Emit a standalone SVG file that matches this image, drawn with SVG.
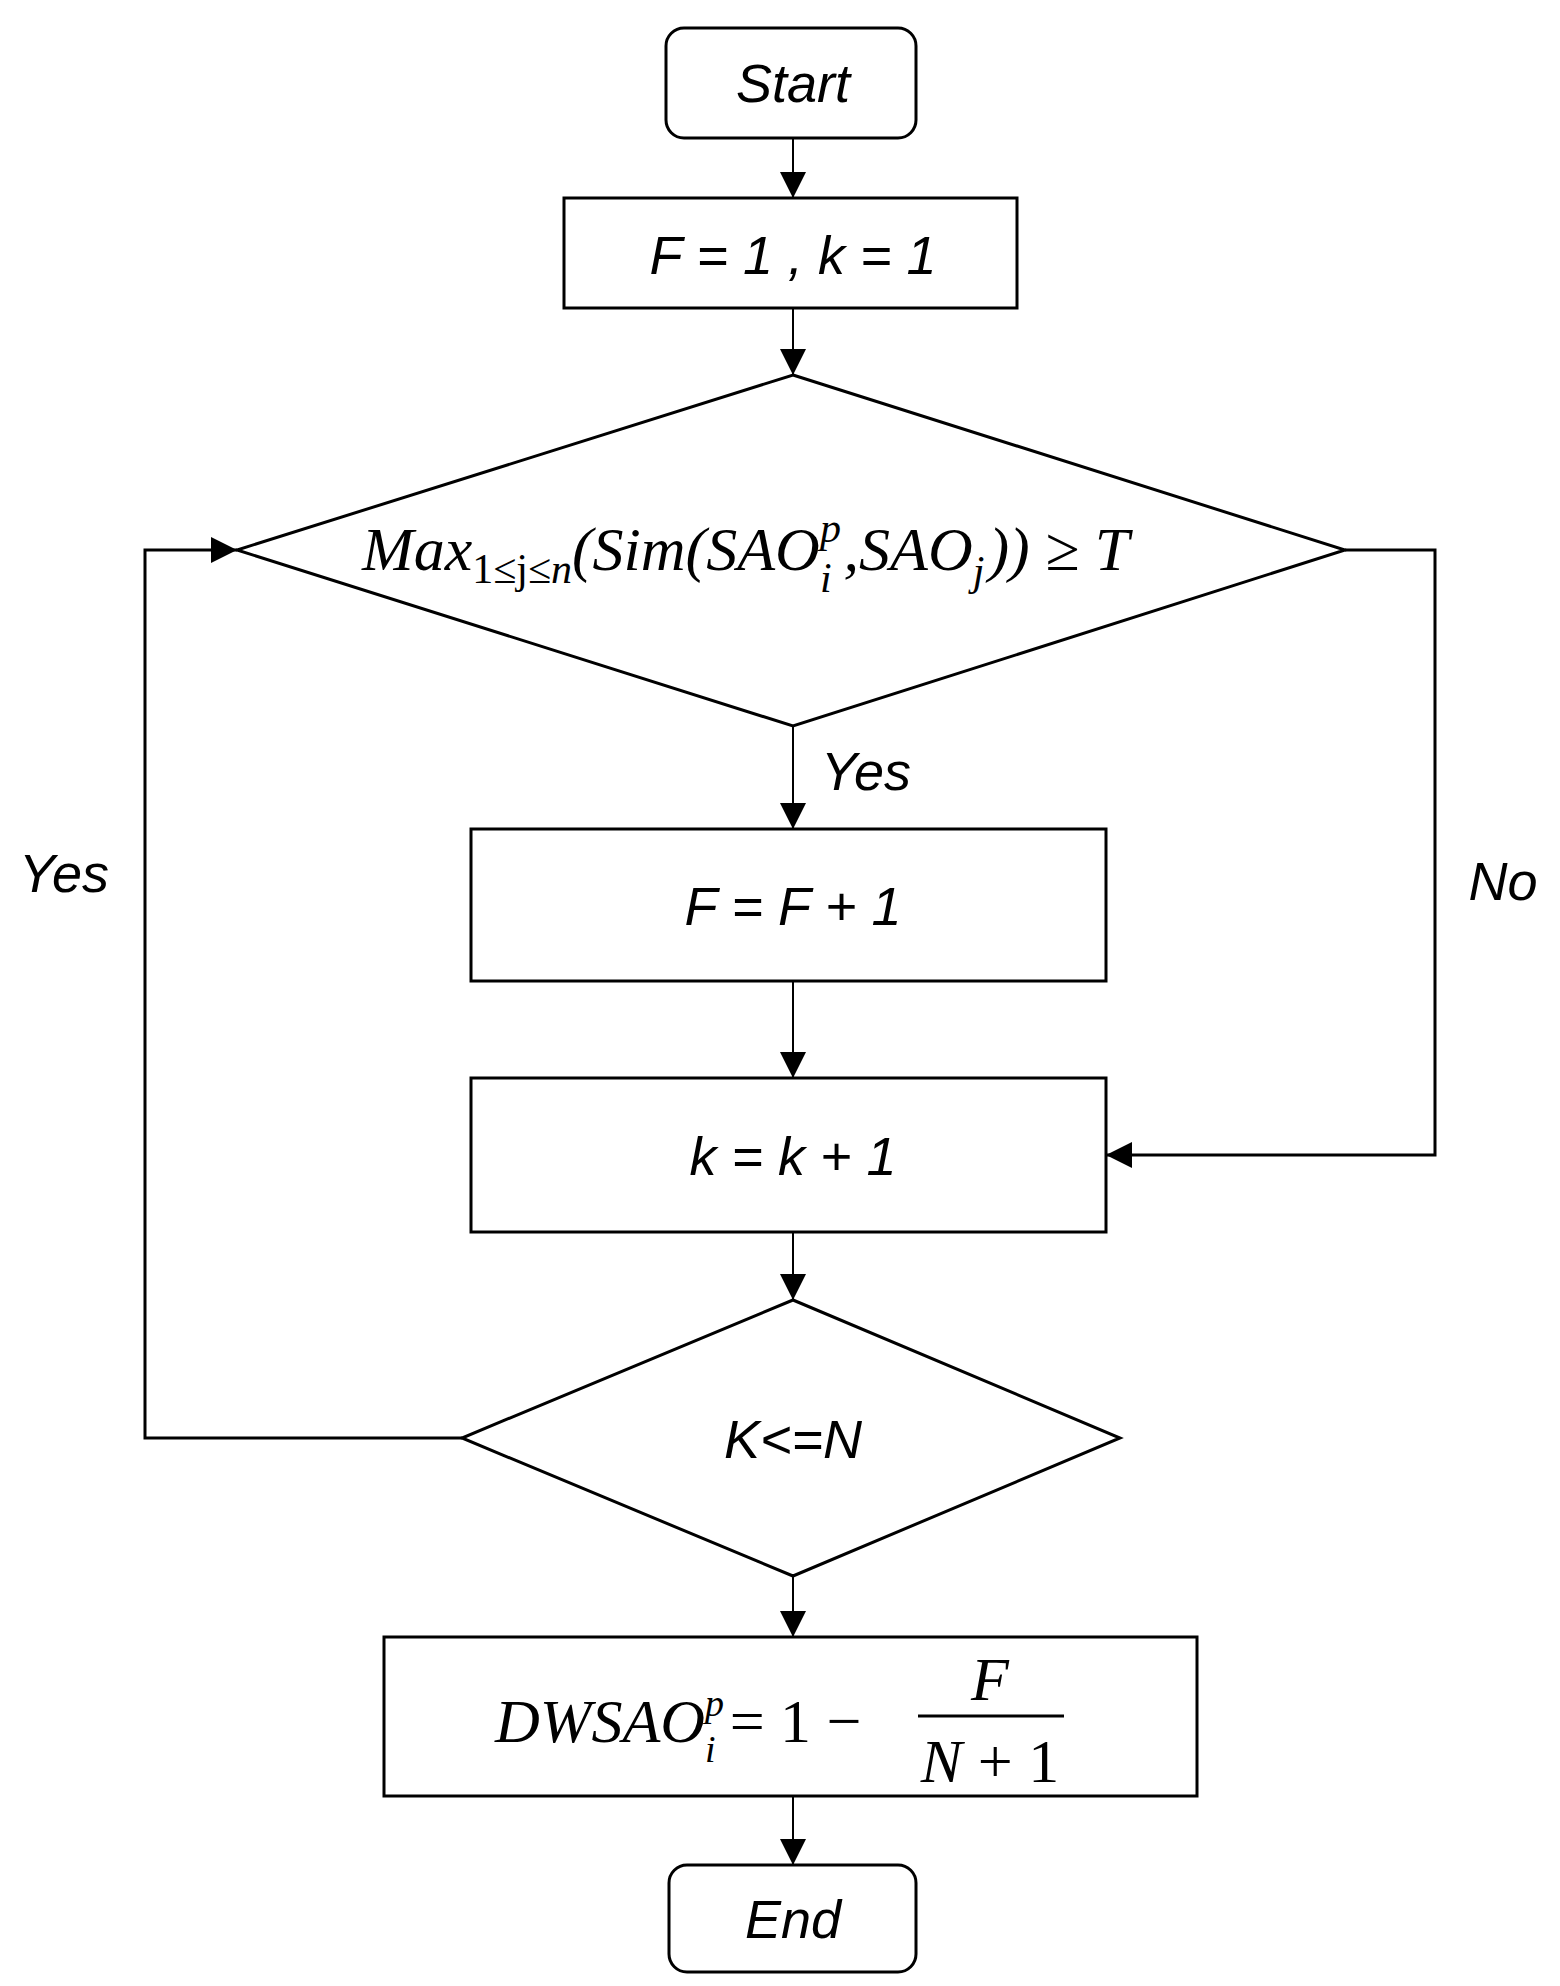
<svg xmlns="http://www.w3.org/2000/svg" width="1560" height="1986" viewBox="0 0 1560 1986">
<style>
.n{fill:#fff;stroke:#000;stroke-width:3}
.c{fill:none;stroke:#000;stroke-width:2}
.t{font-family:"Liberation Sans",Arial,sans-serif;font-style:italic;font-size:54px;text-anchor:middle}
.m{font-family:"Liberation Serif","Times New Roman",serif;font-style:italic;font-size:62px}
</style>
<defs><marker id="b" markerWidth="26" markerHeight="26" refX="26" refY="13" orient="auto" markerUnits="userSpaceOnUse" viewBox="0 0 26 26"><path d="M0,0L26,13L0,26z"/></marker></defs>
<rect width="1560" height="1986" fill="#fff"/>
<g id="connectors">
<path class="c" d="M793,138V198" marker-end="url(#b)"/>
<path class="c" d="M793,308V375" marker-end="url(#b)"/>
<path class="c" d="M793,726V829" marker-end="url(#b)"/>
<path class="c" d="M793,981V1078" marker-end="url(#b)"/>
<path class="c" d="M793,1232V1300" marker-end="url(#b)"/>
<path class="c" d="M793,1576V1637" marker-end="url(#b)"/>
<path class="c" d="M793,1796V1865" marker-end="url(#b)"/>
<path class="c" style="stroke-width:3" d="M1345,550H1435V1155H1106" marker-end="url(#b)"/>
<path class="c" style="stroke-width:3" d="M462,1438H145V550H237" marker-end="url(#b)"/>
<text class="t" x="866" y="790">Yes</text>
<text class="t" x="1503" y="900">No</text>
<text class="t" x="64" y="892">Yes</text>
</g>
<g id="start"><rect class="n" x="666" y="28" width="250" height="110" rx="18"/><text class="t" x="793" y="102">Start</text></g>
<g id="init"><rect class="n" x="564" y="198" width="453" height="110"/><text class="t" x="793" y="274">F = 1 , k = 1</text></g>
<g id="cond1"><path class="n" d="M793,375L1345,550L793,726L237,550Z"/>
<text class="m" x="362" y="570" font-size="68">Max<tspan font-size="42" font-style="normal" dy="13">1≤j≤</tspan><tspan font-size="42">n</tspan><tspan dy="-13">(Sim(SAO</tspan><tspan font-size="42" dy="-28">p</tspan><tspan font-size="42" dx="-21" dy="50">i</tspan><tspan dx="12" dy="-22">,SAO</tspan><tspan font-size="42" dy="15">j</tspan><tspan dx="4" dy="-15">)) ≥ T</tspan></text></g>
<g id="incF"><rect class="n" x="471" y="829" width="635" height="152"/><text class="t" x="793" y="925">F = F + 1</text></g>
<g id="incK"><rect class="n" x="471" y="1078" width="635" height="154"/><text class="t" x="793" y="1175">k = k + 1</text></g>
<g id="cond2"><path class="n" d="M793,1300L1120,1438L793,1576L462,1438Z"/><text class="t" x="793" y="1458">K&lt;=N</text></g>
<g id="dwsao"><rect class="n" x="384" y="1637" width="813" height="159"/>
<text class="m" x="495" y="1742">DWSAO<tspan font-size="38" dy="-26">p</tspan><tspan font-size="38" dx="-19" dy="46">i</tspan><tspan font-style="normal" dx="14" dy="-20">= 1 −</tspan></text>
<text class="m" x="990" y="1700" text-anchor="middle">F</text>
<line x1="918" y1="1716" x2="1064" y2="1716" stroke="#000" stroke-width="3"/>
<text class="m" x="990" y="1782" text-anchor="middle">N<tspan font-style="normal"> + 1</tspan></text></g>
<g id="end"><rect class="n" x="669" y="1865" width="247" height="107" rx="18"/><text class="t" x="793" y="1938">End</text></g>
</svg>
